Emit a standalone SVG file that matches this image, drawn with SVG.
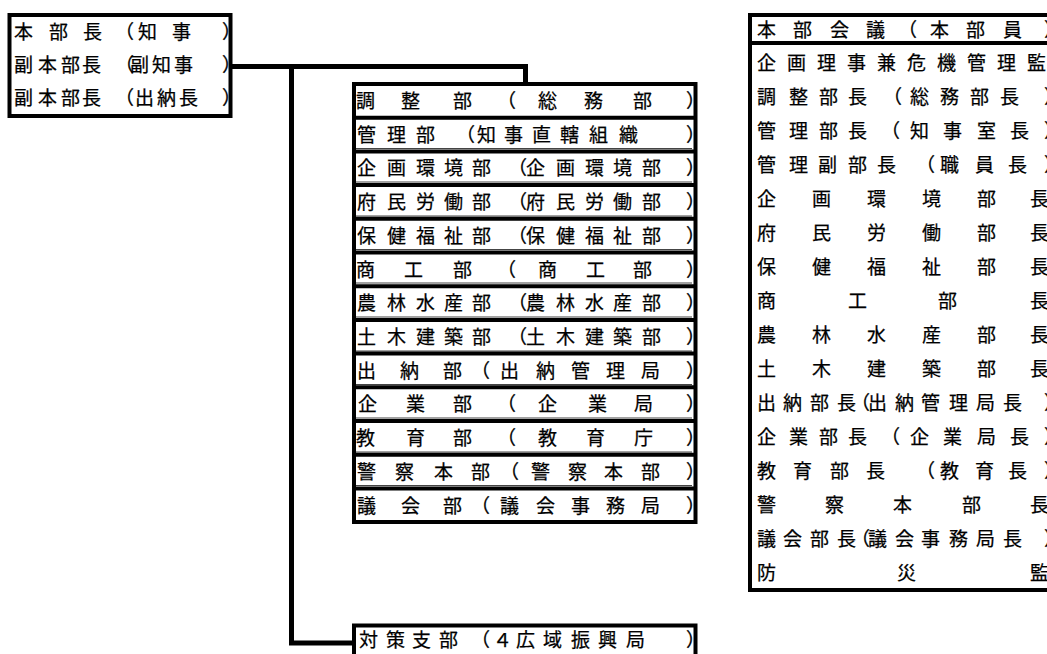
<svg xmlns="http://www.w3.org/2000/svg" width="1047" height="654" viewBox="0 0 1047 654">
<style>
.t{font-family:"Noto Sans CJK JP","Noto Sans CJK SC",sans-serif;font-size:19px;fill:#000;stroke:#000;stroke-width:0.25}
.b{fill:none;stroke:#000;stroke-width:4}
.c{fill:none;stroke:#000;stroke-width:5}
.u{stroke:#444;stroke-width:1.2}
</style>
<rect width="1047" height="654" fill="#fff"/>
<g id="connectors">
<path class="c" d="M232,66.5 H525.5 V84"/>
<path class="c" d="M291.5,66.5 V643 H354"/>
</g>
<g id="hq">
<text class="t" x="14 49 83 115 138 172 222" y="39">本部長（知事）</text>
<text class="t" x="14 38 61 82 115 130 152 174 222" y="72">副本部長（副知事）</text>
<text class="t" x="14 38 61 82 115 135 157 179 222" y="105">副本部長（出納長）</text>
<rect class="b" x="9.5" y="15" width="221" height="101"/>
</g>
<g id="departments">
<text class="t" x="356 401 453 497 538 584 633 686" y="108">調整部（総務部）</text>
<text class="t" x="357 387 416 456 477 504 532 560 589 619 686" y="141.5">管理部（知事直轄組織）</text>
<text class="t" x="357 387 416 444 472 508 526 556 585 613 642 686" y="175">企画環境部（企画環境部）</text>
<text class="t" x="357 387 416 444 472 508 526 556 585 613 642 686" y="209">府民労働部（府民労働部）</text>
<text class="t" x="357 387 416 444 472 508 526 556 585 613 642 686" y="243">保健福祉部（保健福祉部）</text>
<text class="t" x="356 404 453 497 538 586 633 686" y="276.5">商工部（商工部）</text>
<text class="t" x="357 387 416 444 472 508 526 556 585 613 642 686" y="310">農林水産部（農林水産部）</text>
<text class="t" x="357 387 416 444 472 508 526 556 585 613 642 686" y="344">土木建築部（土木建築部）</text>
<text class="t" x="357 400 443 471 500 536 571 606 641 686" y="378">出納部（出納管理局）</text>
<text class="t" x="358 406 453 497 538 588 634 686" y="411">企業部（企業局）</text>
<text class="t" x="356 406 453 497 538 586 634 686" y="445">教育部（教育庁）</text>
<text class="t" x="357 395 434 471 500 531 568 604 641 686" y="479">警察本部（警察本部）</text>
<text class="t" x="357 401 443 471 500 536 571 606 641 686" y="513">議会部（議会事務局）</text>
<g class="u">
<line x1="356" y1="148.5" x2="692" y2="148.5"/>
<line x1="356" y1="182" x2="692" y2="182"/>
<line x1="356" y1="216" x2="692" y2="216"/>
<line x1="356" y1="249.5" x2="692" y2="249.5"/>
<line x1="356" y1="283" x2="692" y2="283"/>
<line x1="356" y1="317" x2="692" y2="317"/>
<line x1="356" y1="351" x2="692" y2="351"/>
<line x1="356" y1="384.5" x2="692" y2="384.5"/>
<line x1="356" y1="418" x2="692" y2="418"/>
<line x1="356" y1="452" x2="692" y2="452"/>
<line x1="356" y1="485.5" x2="692" y2="485.5"/>
</g>
<rect class="b" x="354" y="84" width="341.5" height="438"/>
<path class="b" d="M354,117.7 H695.5 M354,151.4 H695.5 M354,185.1 H695.5 M354,218.8 H695.5 M354,252.5 H695.5 M354,286.2 H695.5 M354,319.9 H695.5 M354,353.6 H695.5 M354,387.3 H695.5 M354,421 H695.5 M354,454.7 H695.5 M354,488.4 H695.5"/>
</g>
<g id="branch">
<text class="t" x="359 386 412 439 471 493 516 543 571 598 626 686" y="647">対策支部（４広域振興局）</text>
<rect class="b" x="354" y="625.5" width="341.5" height="60"/>
</g>
<g id="council">
<text class="t" x="757 793 830 866 898 930 966 1003 1044" y="37">本部会議（本部員）</text>
<text class="t" x="757 787 817 847 877 907 937 967 997 1027" y="70">企画理事兼危機管理監</text>
<text class="t" x="757 789 819 848 883 910 940 970 1000 1044" y="104">調整部長（総務部長）</text>
<text class="t" x="757 789 819 848 881 910 943 977 1010 1044" y="138">管理部長（知事室長）</text>
<text class="t" x="757 789 818 848 877 916 940 975 1008 1044" y="172">管理副部長（職員長）</text>
<text class="t" x="757 812 867 922 977 1030" y="206">企画環境部長</text>
<text class="t" x="757 812 867 922 977 1030" y="240">府民労働部長</text>
<text class="t" x="757 812 867 922 977 1030" y="274">保健福祉部長</text>
<text class="t" x="757 848 938 1030" y="308">商工部長</text>
<text class="t" x="757 812 867 922 977 1030" y="342">農林水産部長</text>
<text class="t" x="757 812 867 922 977 1030" y="376">土木建築部長</text>
<text class="t" x="757 783 810 837 851 868 895 921 949 976 1003 1044" y="410">出納部長（出納管理局長）</text>
<text class="t" x="757 789 819 848 881 910 943 977 1010 1044" y="444">企業部長（企業局長）</text>
<text class="t" x="757 793 830 866 916 940 975 1008 1044" y="478">教育部長（教育長）</text>
<text class="t" x="757 825 893 962 1030" y="512">警察本部長</text>
<text class="t" x="757 783 810 837 851 868 895 921 949 976 1003 1044" y="546">議会部長（議会事務局長）</text>
<text class="t" x="757 897 1030" y="580">防災監</text>
<rect class="b" x="750" y="15" width="320" height="575"/>
<line class="b" x1="750" y1="43" x2="1047" y2="43"/>
</g>
</svg>
